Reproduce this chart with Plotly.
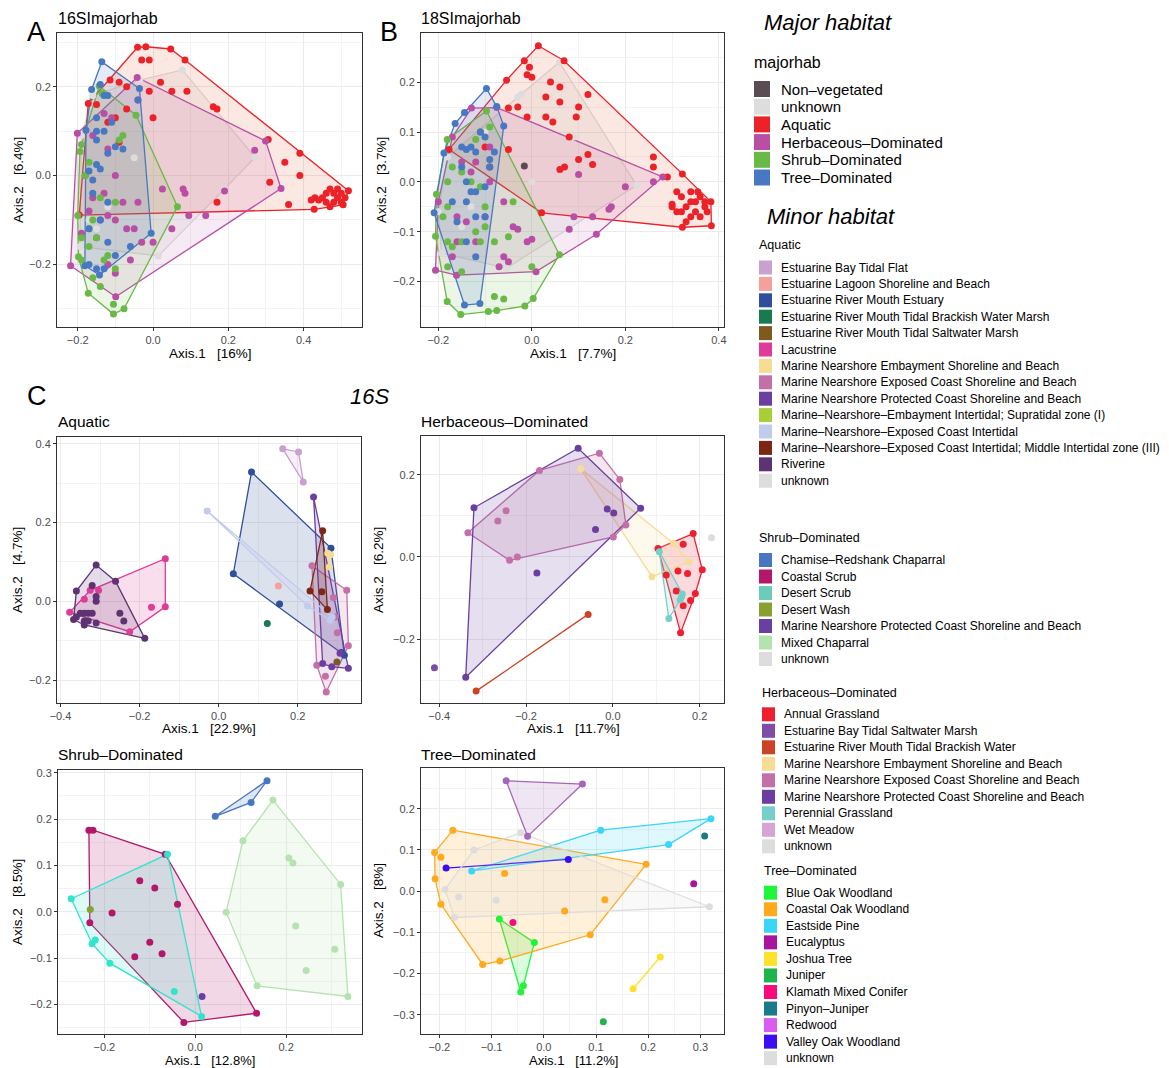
import plotly.graph_objects as go

W, H = 1169, 1068

# ---------------- DATA ----------------
major_labels = ["Non–vegetated", "unknown", "Aquatic", "Herbaceous–Dominated", "Shrub–Dominated", "Tree–Dominated"]
major_colors = ["#594D53", "#DDDDDD", "#EC2229", "#B94FA4", "#6AB946", "#4878C1"]
major_fills = ["rgba(89,77,83,0.15)", "rgba(200,200,200,0.18)", "rgba(236,90,55,0.14)",
               "rgba(185,79,164,0.12)", "rgba(106,185,70,0.13)", "rgba(72,120,193,0.15)"]

# Panel A (16S, major habitat)
A_groups = {
    "unknown": ([0.078, 0.271, 0.014, -0.194, -0.19, -0.160, -0.035, -0.05, -0.12, 0.19, -0.17, -0.15],
                [0.238, 0.041, -0.181, -0.160, 0.09, 0.18, 0.215, 0.04, -0.07, -0.03, -0.10, -0.12]),
    "Aquatic": ([-0.041, -0.019, 0.047, 0.085, 0.306, 0.519, 0.505, 0.428, -0.196, -0.172, -0.114,
                 0.45, 0.46, 0.47, 0.48, 0.49, 0.50, 0.48, 0.47, 0.50, 0.49, 0.44, 0.46, 0.51, 0.43, 0.42,
                 0.39, 0.39, 0.35, 0.31, 0.36, 0.17, 0.05, 0.09, -0.01, 0.0, 0.16, 0.17, -0.03, -0.01,
                 -0.09, -0.07, -0.12, -0.15, -0.10, -0.09, -0.07, 0.02],
                [0.289, 0.290, 0.285, 0.260, 0.081, -0.034, -0.066, -0.076, -0.089, 0.162, 0.215,
                 -0.05, -0.06, -0.03, -0.04, -0.05, -0.04, -0.06, -0.07, -0.06, -0.03, -0.055, -0.04, -0.05, -0.05, -0.055,
                 0.05, 0.0, 0.03, -0.015, -0.065, -0.06, 0.19, 0.19, 0.19, 0.13, 0.155, 0.15, 0.26, 0.26,
                 0.21, 0.15, 0.12, 0.16, 0.13, 0.075, 0.20, 0.21]),
    "Herbaceous–Dominated": ([-0.219, -0.201, -0.042, 0.299, 0.340, -0.099, 0.27, 0.19, 0.08, 0.085, 0.14, 0.095,
                              0.025, -0.04, -0.08, -0.10, -0.12, -0.14, -0.07, -0.03, 0.0, -0.06, -0.17, -0.13,
                              -0.16, -0.10, -0.12, -0.04, -0.13, -0.16, -0.18, -0.11, -0.05, -0.15, -0.19, -0.10,
                              -0.12, 0.05],
                             [-0.203, 0.095, 0.221, 0.078, -0.029, -0.273, 0.057, -0.035, -0.03, -0.04, -0.09, -0.09,
                              -0.03, -0.06, -0.06, -0.10, -0.09, -0.10, -0.12, -0.15, -0.15, -0.19, -0.08, -0.04,
                              -0.05, 0.0, 0.06, 0.17, 0.14, 0.09, 0.0, 0.13, -0.12, -0.14, -0.13, -0.22,
                              -0.20, -0.12]),
    "Shrub–Dominated": ([-0.143, -0.045, 0.065, -0.077, -0.105, -0.172, -0.198, -0.194, -0.135, -0.08, -0.17,
                         -0.19, -0.18, -0.14, -0.10, -0.16, -0.17, -0.15, -0.17, -0.12, -0.13, -0.10, -0.16,
                         -0.14, -0.105, -0.19, -0.09, -0.20, -0.19],
                        [0.2015, 0.136, -0.070, -0.300, -0.312, -0.265, -0.183, 0.054, 0.185, 0.09, 0.03,
                         0.07, 0.0, -0.05, -0.06, -0.10, -0.12, -0.14, -0.16, -0.18, -0.19, -0.21, -0.23,
                         -0.25, -0.29, -0.19, 0.08, -0.09, -0.14]),
    "Tree–Dominated": ([-0.136, -0.036, -0.005, -0.142, -0.181, -0.178, -0.163, -0.14, -0.13, -0.12, -0.15,
                        -0.11, -0.15, -0.13, -0.15, -0.08, -0.10, -0.12, -0.15, -0.14, -0.17, -0.16, -0.16,
                        -0.12, -0.14, -0.17, -0.12, -0.17, -0.15, -0.13, -0.06, -0.10, -0.04],
                       [0.256, 0.196, -0.130, -0.224, -0.203, 0.102, 0.194, 0.205, 0.18, 0.18, 0.13,
                        0.12, 0.10, 0.10, 0.08, 0.06, 0.065, 0.05, 0.025, 0.015, 0.01, -0.01, -0.04,
                        -0.06, -0.10, -0.12, -0.15, -0.20, -0.21, -0.21, -0.16, -0.18, 0.17]),
}

# Panel B (18S, major habitat)
B_groups = {
    "Non–vegetated": ([-0.016], [0.032]),
    "unknown": ([0.059, 0.224, -0.054, -0.193, -0.18, -0.022, -0.03, 0.09, -0.10, -0.13, -0.15, 0.0, -0.2],
                [0.240, -0.007, -0.173, -0.143, 0.05, 0.176, 0.17, 0.09, 0.10, -0.05, -0.09, 0.0, -0.06]),
    "Aquatic": ([0.014, 0.069, 0.322, 0.383, 0.384, 0.322, 0.021, -0.177, -0.054, -0.016,
                 0.30, 0.31, 0.32, 0.33, 0.34, 0.35, 0.36, 0.37, 0.36, 0.34, 0.33, 0.32, 0.35, 0.37, 0.355, 0.34,
                 0.30, 0.31, 0.375, 0.26, 0.26, 0.29, 0.12, 0.13, 0.10, 0.06, 0.08, 0.045, 0.095, 0.10, 0.03,
                 0.03, 0.06, 0.06, 0.04, -0.005, 0.0, -0.01, 0.12, -0.03, -0.05, -0.01, -0.05, -0.09, 0.07, -0.10],
                [0.273, 0.243, 0.016, -0.040, -0.088, -0.091, -0.062, 0.065, 0.204, 0.243,
                 -0.05, -0.02, -0.03, -0.05, -0.02, -0.04, -0.03, -0.05, -0.07, -0.07, -0.08, -0.06, -0.06, -0.04, -0.02, -0.04,
                 -0.045, -0.06, -0.06, 0.05, 0.03, 0.01, 0.055, 0.035, 0.045, 0.025, 0.09, 0.12, 0.13, 0.15, 0.13,
                 0.17, 0.16, 0.19, 0.20, 0.23, 0.21, 0.215, 0.175, 0.15, 0.148, 0.13, 0.065, 0.03, 0.03, 0.07]),
    "Herbaceous–Dominated": ([-0.129, -0.075, 0.280, 0.138, 0.009, -0.161, -0.206, -0.20, -0.17,
                              0.17, 0.165, 0.13, 0.08, 0.09, 0.10, 0.20, 0.26, -0.04, -0.03, -0.01, 0.0, -0.06,
                              -0.05, -0.07, -0.10, -0.12, -0.14, -0.16, -0.13, -0.15, -0.12, -0.09, -0.11, -0.06,
                              -0.16, -0.17, -0.09],
                             [0.148, 0.149, 0.010, -0.105, -0.180, -0.187, -0.177, -0.04, 0.09,
                              -0.05, -0.055, -0.07, -0.095, -0.07, 0.015, -0.01, 0.0, -0.09, -0.095, -0.12, -0.115, -0.15,
                              -0.16, -0.17, -0.07, -0.12, -0.08, -0.07, 0.02, 0.04, 0.04, 0.07, 0.10, -0.04,
                              -0.12, -0.15, 0.0]),
    "Shrub–Dominated": ([-0.097, 0.059, 0.003, -0.015, -0.075, -0.093, -0.152, -0.181, -0.206, -0.204, -0.181,
                         -0.11, -0.09, -0.12, -0.17, -0.15, -0.18, -0.13, -0.11, -0.10, -0.04, -0.19, -0.18, -0.17,
                         -0.15, -0.12, -0.10, -0.11, -0.08, -0.05, 0.0, -0.18, -0.15, -0.08, -0.06, -0.18],
                        [0.142, -0.146, -0.234, -0.249, -0.258, -0.260, -0.266, -0.240, -0.109, -0.025, 0.085,
                         0.10, 0.11, 0.085, 0.03, 0.02, 0.0, 0.0, -0.01, -0.05, -0.04, -0.07, -0.12, -0.13,
                         -0.12, -0.10, -0.09, -0.12, -0.12, -0.11, -0.17, -0.17, -0.18, -0.23, -0.235, -0.05]),
    "Tree–Dominated": ([-0.097, -0.075, -0.060, -0.111, -0.144, -0.209, -0.188, -0.164, -0.144,
                        -0.13, -0.15, -0.14, -0.12, -0.11, -0.08, -0.09, -0.09, -0.10, -0.15, -0.14, -0.13,
                        -0.12, -0.14, -0.10, -0.12, -0.16, -0.14, -0.12, -0.17, -0.10],
                       [0.187, 0.151, 0.112, -0.244, -0.247, -0.062, 0.058, 0.117, 0.139,
                        0.07, 0.07, 0.065, 0.06, 0.10, 0.06, 0.03, 0.045, 0.09, 0.03, 0.0, -0.02,
                        -0.02, -0.04, -0.07, -0.07, -0.08, -0.12, -0.15, -0.04, -0.01]),
}

# Minor habitat legend categories and colours
aquatic_labels = ["Estuarine Bay Tidal Flat", "Estuarine Lagoon Shoreline and Beach", "Estuarine River Mouth Estuary",
                  "Estuarine River Mouth Tidal Brackish Water Marsh", "Estuarine River Mouth Tidal Saltwater Marsh",
                  "Lacustrine", "Marine Nearshore Embayment Shoreline and Beach",
                  "Marine Nearshore Exposed Coast Shoreline and Beach", "Marine Nearshore Protected Coast Shoreline and Beach",
                  "Marine–Nearshore–Embayment Intertidal; Supratidal zone (I)", "Marine–Nearshore–Exposed Coast Intertidal",
                  "Marine–Nearshore–Exposed Coast Intertidal; Middle Intertidal zone (III)", "Riverine", "unknown"]
aquatic_colors = ["#C9A0CF", "#F4A09D", "#2F4E9B", "#187A4E", "#7E5A1F", "#DE3C96", "#F7DC96",
                  "#C470A8", "#6B3FA0", "#A9CF38", "#C0CCEB", "#7C2716", "#5D3373", "#DDDDDD"]

shrub_labels = ["Chamise–Redshank Chaparral", "Coastal Scrub", "Desert Scrub", "Desert Wash",
                "Marine Nearshore Protected Coast Shoreline and Beach", "Mixed Chaparral", "unknown"]
shrub_colors = ["#4877C1", "#B31769", "#6DCBBA", "#87A030", "#6B3FA0", "#B5E3AF", "#DDDDDD"]
shrub_plot_colors = ["#4877C1", "#B31769", "#33E3CB", "#87A030", "#6B3FA0", "#B5E3AF", "#DDDDDD"]

herb_labels = ["Annual Grassland", "Estuarine Bay Tidal Saltwater Marsh", "Estuarine River Mouth Tidal Brackish Water",
               "Marine Nearshore Embayment Shoreline and Beach", "Marine Nearshore Exposed Coast Shoreline and Beach",
               "Marine Nearshore Protected Coast Shoreline and Beach", "Perennial Grassland", "Wet Meadow", "unknown"]
herb_colors = ["#EE1F2F", "#7F4CA6", "#CB4324", "#F7DC96", "#C470A8", "#6B3FA0", "#76CFCB", "#D7A5D5", "#DDDDDD"]

tree_labels = ["Blue Oak Woodland", "Coastal Oak Woodland", "Eastside Pine", "Eucalyptus", "Joshua Tree", "Juniper",
               "Klamath Mixed Conifer", "Pinyon–Juniper", "Redwood", "Valley Oak Woodland", "unknown"]
tree_colors = ["#1EF53B", "#FFA91D", "#3AD5F7", "#A8149D", "#FDE12A", "#1DB34D", "#FB0A7E", "#1A7A8A",
               "#D85DF0", "#3C0DF2", "#DDDDDD"]
tree_plot_colors = ["#1EF53B", "#FFA91D", "#3AD5F7", "#A8149D", "#FDE12A", "#1DB34D", "#FB0A7E", "#1A7A8A",
                    "#A466BA", "#3C0DF2", "#DDDDDD"]

# Panel C – Aquatic (16S)
CA_groups = {
    "Estuarine Bay Tidal Flat": ([0.162, 0.202, 0.214], [0.387, 0.379, 0.303]),
    "Estuarine Lagoon Shoreline and Beach": ([0.151], [0.039]),
    "Estuarine River Mouth Estuary": ([0.083, 0.284, 0.318, 0.037, 0.154, 0.31], [0.328, 0.135, -0.137, 0.070, -0.007, -0.13]),
    "Estuarine River Mouth Tidal Brackish Water Marsh": ([0.123], [-0.056]),
    "Estuarine River Mouth Tidal Saltwater Marsh": ([0.299], [-0.154]),
    "Lacustrine": ([-0.135, -0.135, -0.225, -0.377, -0.325, -0.304, -0.17, -0.34],
                   [0.108, -0.014, -0.077, -0.028, 0.028, 0.028, -0.015, 0.005]),
    "Marine Nearshore Embayment Shoreline and Beach": ([0.276, 0.283, 0.280], [0.122, 0.118, 0.087]),
    "Marine Nearshore Exposed Coast Shoreline and Beach": ([0.236, 0.324, 0.328, 0.272, 0.248, 0.27, 0.29, 0.30, 0.295],
                                                           [0.090, 0.028, -0.113, -0.230, -0.162, -0.19, 0.01, -0.08, -0.04]),
    "Marine Nearshore Protected Coast Shoreline and Beach": ([0.240, 0.328, 0.286, 0.263, 0.307],
                                                             [0.265, -0.170, -0.166, -0.158, -0.132]),
    "Marine–Nearshore–Exposed Coast Intertidal": ([-0.029, 0.225, 0.282, 0.287], [0.229, -0.012, -0.048, -0.040]),
    "Marine–Nearshore–Exposed Coast Intertidal; Middle Intertidal zone (III)": ([0.263, 0.231, 0.275, 0.261],
                                                                                [0.179, 0.026, -0.021, 0.024]),
    "Riverine": ([-0.310, -0.261, -0.187, -0.367, -0.360, -0.32, -0.31, -0.31, -0.34, -0.33, -0.32, -0.35, -0.34,
                  -0.33, -0.36, -0.31, -0.34, -0.25, -0.24],
                 [0.092, 0.051, -0.094, -0.046, 0.026, 0.04, 0.012, 0.0, -0.03, -0.03, -0.03, -0.03, -0.05,
                  -0.05, -0.04, -0.055, -0.06, -0.03, -0.05]),
}

# Panel C – Herbaceous-Dominated
CH_groups = {
    "Annual Grassland": ([0.104, 0.185, 0.206, 0.156, 0.162, 0.150, 0.172, 0.190, 0.179, 0.162, 0.146, 0.123],
                         [0.021, 0.057, -0.031, -0.185, 0.031, -0.034, -0.040, -0.089, -0.106, -0.119, -0.083, -0.044]),
    "Estuarine Bay Tidal Saltwater Marsh": ([-0.411], [-0.270]),
    "Estuarine River Mouth Tidal Brackish Water": ([-0.315, -0.057], [-0.327, -0.140]),
    "Marine Nearshore Embayment Shoreline and Beach": ([-0.074, 0.176, 0.090, 0.140], [0.215, -0.012, -0.048, 0.033]),
    "Marine Nearshore Exposed Coast Shoreline and Beach": ([-0.031, 0.016, 0.030, 0.001, -0.220, -0.238, -0.334, -0.169, -0.246, -0.265],
                                                           [0.253, 0.189, 0.078, 0.049, 0.0, -0.008, 0.059, 0.211, 0.113, 0.088]),
    "Marine Nearshore Protected Coast Shoreline and Beach": ([-0.080, 0.064, -0.339, -0.320, -0.040, -0.013, -0.175, 0.002],
                                                             [0.265, 0.119, -0.293, 0.120, 0.067, 0.117, -0.039, 0.107]),
    "Perennial Grassland": ([0.107, 0.158, 0.129, 0.155, 0.16], [0.013, -0.097, -0.150, -0.105, -0.09]),
    "unknown": ([0.227], [0.047]),
}

# Panel C – Shrub-Dominated
CS_groups = {
    "Chamise–Redshank Chaparral": ([0.044, 0.158, 0.123], [0.206, 0.283, 0.236]),
    "Coastal Scrub": ([-0.234, -0.225, -0.066, 0.135, -0.025, -0.232, -0.122, -0.089, -0.039, -0.183, -0.100, -0.073, -0.133],
                      [0.176, 0.176, 0.124, -0.219, -0.239, -0.024, 0.067, 0.051, 0.016, -0.003, -0.066, -0.091, -0.097]),
    "Desert Scrub": ([-0.273, -0.061, 0.014, -0.188, -0.227, -0.220, -0.046],
                     [0.028, 0.124, -0.226, -0.111, -0.069, -0.061, -0.172]),
    "Desert Wash": ([-0.231], [0.005]),
    "Marine Nearshore Protected Coast Shoreline and Beach": ([0.015], [-0.183]),
    "Mixed Chaparral": ([0.171, 0.320, 0.336, 0.136, 0.068, 0.105, 0.206, 0.215, 0.221, 0.307, 0.244],
                        [0.241, 0.059, -0.183, -0.160, -0.001, 0.153, 0.116, 0.105, -0.031, -0.081, -0.127]),
}

# Panel C – Tree-Dominated
CT_groups = {
    "Blue Oak Woodland": ([-0.085, -0.018, -0.039, -0.044], [-0.068, -0.125, -0.230, -0.245]),
    "Coastal Oak Woodland": ([-0.174, 0.196, 0.089, -0.084, -0.117, -0.197, -0.208, -0.209, -0.197, -0.075, 0.040, 0.117],
                             [0.148, 0.065, -0.106, -0.170, -0.178, -0.032, 0.030, 0.094, 0.082, 0.043, -0.048, -0.021]),
    "Eastside Pine": ([-0.138, 0.109, 0.239, 0.320], [0.049, 0.148, 0.113, 0.176]),
    "Eucalyptus": ([0.287], [0.018]),
    "Joshua Tree": ([0.171, 0.223], [-0.237, -0.160]),
    "Juniper": ([0.114], [-0.317]),
    "Klamath Mixed Conifer": ([-0.059], [-0.076]),
    "Pinyon–Juniper": ([0.308], [0.134]),
    "Redwood": ([-0.072, 0.074, -0.031], [0.268, 0.260, 0.133]),
    "Valley Oak Woodland": ([-0.187, 0.047], [0.056, 0.077]),
    "unknown": ([-0.044, -0.134, -0.189, -0.171, 0.317, -0.163, -0.091], [0.142, 0.100, 0.004, -0.064, -0.038, -0.014, -0.022]),
}

# ---------------- HELPERS ----------------
def fx(p):
    return p / W


def fy(p):
    return 1 - p / H


def convex_hull(xs, ys):
    pts = sorted(set(zip(xs, ys)))
    if len(pts) <= 2:
        return pts

    def cross(o, a, b):
        return (a[0] - o[0]) * (b[1] - o[1]) - (a[1] - o[1]) * (b[0] - o[0])

    lower, upper = [], []
    for p in pts:
        while len(lower) >= 2 and cross(lower[-2], lower[-1], p) <= 0:
            lower.pop()
        lower.append(p)
    for p in reversed(pts):
        while len(upper) >= 2 and cross(upper[-2], upper[-1], p) <= 0:
            upper.pop()
        upper.append(p)
    return lower[:-1] + upper[:-1]


def hex_rgba(h, a):
    h = h.lstrip("#")
    r, g, b = int(h[0:2], 16), int(h[2:4], 16), int(h[4:6], 16)
    return f"rgba({r},{g},{b},{a})"


fig = go.Figure()

FONT = "Liberation Sans, Arial, sans-serif"


def add_panel(groups, order, colors, fills, xa, ya):
    # hulls first
    for name in order:
        if name not in groups:
            continue
        xs, ys = groups[name]
        col = colors[name]
        h = convex_hull(xs, ys)
        if len(h) >= 3:
            fig.add_trace(go.Scatter(x=[p[0] for p in h] + [h[0][0]], y=[p[1] for p in h] + [h[0][1]],
                                     mode="lines", fill="toself", fillcolor=fills[name],
                                     line=dict(color=col, width=1.3), xaxis=xa, yaxis=ya,
                                     showlegend=False, hoverinfo="skip"))
        elif len(h) == 2:
            fig.add_trace(go.Scatter(x=[p[0] for p in h], y=[p[1] for p in h], mode="lines",
                                     line=dict(color=col, width=1.3), xaxis=xa, yaxis=ya,
                                     showlegend=False, hoverinfo="skip"))
    for name in order:
        if name not in groups:
            continue
        xs, ys = groups[name]
        fig.add_trace(go.Scatter(x=xs, y=ys, mode="markers",
                                 marker=dict(color=colors[name], size=7, line=dict(width=0)),
                                 xaxis=xa, yaxis=ya, showlegend=False, name=name))


maj_col = dict(zip(major_labels, major_colors))
maj_fill = dict(zip(major_labels, major_fills))
add_panel(A_groups, major_labels, maj_col, maj_fill, "x", "y")
add_panel(B_groups, major_labels, maj_col, maj_fill, "x2", "y2")

aq_col = dict(zip(aquatic_labels, aquatic_colors))
add_panel(CA_groups, aquatic_labels, aq_col, {k: hex_rgba(v, 0.17) for k, v in aq_col.items()}, "x3", "y3")
hb_col = dict(zip(herb_labels, herb_colors))
add_panel(CH_groups, herb_labels, hb_col, {k: hex_rgba(v, 0.17) for k, v in hb_col.items()}, "x4", "y4")
sh_col = dict(zip(shrub_labels, shrub_plot_colors))
add_panel(CS_groups, shrub_labels, sh_col, {k: hex_rgba(v, 0.17) for k, v in sh_col.items()}, "x5", "y5")
tr_col = dict(zip(tree_labels, tree_plot_colors))
add_panel(CT_groups, tree_labels, tr_col, {k: hex_rgba(v, 0.17) for k, v in tr_col.items()}, "x6", "y6")

# ---------------- AXES ----------------
panels = [
    # (left, right, top, bottom px), xrange, yrange, xdtick, ydtick
    ((57, 362, 33, 327), [-0.255, 0.555], [-0.341, 0.321], 0.2, 0.2),
    ((421, 724, 33, 327), [-0.237, 0.411], [-0.291, 0.2985], 0.2, 0.1),
    ((57, 361, 437, 703), [-0.409, 0.360], [-0.258, 0.417], 0.2, 0.2),
    ((421, 724, 436, 703), [-0.442, 0.256], [-0.356, 0.295], 0.2, 0.2),
    ((58, 362, 770, 1034), [-0.302, 0.367], [-0.264, 0.306], 0.2, 0.1),
    ((421, 724, 768, 1034), [-0.235, 0.345], [-0.347, 0.299], 0.1, 0.1),
]

layout = dict(width=W, height=H, margin=dict(l=0, r=0, t=0, b=0, autoexpand=False), autosize=False,
              paper_bgcolor="white", plot_bgcolor="white", font=dict(family=FONT, color="black"))

for i, ((l, r, t, b), xr, yr, dx, dy) in enumerate(panels):
    sfx = "" if i == 0 else str(i + 1)
    common = dict(showline=True, mirror=True, linecolor="#333333", linewidth=1.1,
                  showgrid=True, gridcolor="#EBEBEB", gridwidth=1.2, zeroline=False,
                  ticks="outside", ticklen=3, tickcolor="#333333", tickwidth=1,
                  tickfont=dict(size=11, color="#4D4D4D", family=FONT), tickformat=".1f",
                  fixedrange=True, automargin=False)
    layout["xaxis" + sfx] = dict(common, domain=[fx(l), fx(r)], range=xr, tick0=0, dtick=dx,
                                 anchor="y" + sfx,
                                 minor=dict(dtick=dx / 2, tick0=0, showgrid=True, gridcolor="#F3F3F3",
                                            gridwidth=0.8, ticks=""))
    layout["yaxis" + sfx] = dict(common, domain=[fy(b), fy(t)], range=yr, tick0=0, dtick=dy,
                                 anchor="x" + sfx,
                                 minor=dict(dtick=dy / 2, tick0=0, showgrid=True, gridcolor="#F3F3F3",
                                            gridwidth=0.8, ticks=""))

annotations = []
shapes = []


def text(x, y, s, size, xanchor="left", italic=False, angle=0, color="black"):
    if italic:
        s = "<i>" + s + "</i>"
    annotations.append(dict(x=fx(x), y=fy(y), xref="paper", yref="paper", text=s, showarrow=False,
                            xanchor=xanchor, yanchor="middle", textangle=angle, borderpad=0,
                            font=dict(size=size, color=color, family=FONT)))


# panel titles / letters
text(57, 18, "16SImajorhab", 16)
text(420, 18, "18SImajorhab", 16)
text(36, 32, "A", 27, xanchor="center")
text(389, 32, "B", 27, xanchor="center")
text(37, 396, "C", 27, xanchor="center")
text(370, 396, "16S", 22, xanchor="center", italic=True)
text(57, 421, "Aquatic", 15.5)
text(420, 421, "Herbaceous–Dominated", 15.5)
text(57, 754, "Shrub–Dominated", 15.5)
text(420, 754, "Tree–Dominated", 15.5)

# axis titles
ax_titles = [
    ("Axis.1   [16%]", "Axis.2   [6.4%]", 210, 353, 19, 180, 13.5),
    ("Axis.1   [7.7%]", "Axis.2   [3.7%]", 573, 353, 382, 180, 13.5),
    ("Axis.1   [22.9%]", "Axis.2   [4.7%]", 209, 728.5, 17, 570, 13.5),
    ("Axis.1   [11.7%]", "Axis.2   [6.2%]", 573, 728.5, 378, 570, 13.5),
    ("Axis.1   [12.8%]", "Axis.2   [8.5%]", 210, 1060, 17, 902, 13),
    ("Axis.1   [11.2%]", "Axis.2   [8%]", 573, 1060, 378, 901, 13),
]
for t1, t2, x1, y1, x2, y2, fs in ax_titles:
    text(x1, y1, t1.replace(" ", "&nbsp;"), fs, xanchor="center")
    text(x2, y2, t2.replace(" ", "&nbsp;"), 13.5, xanchor="center", angle=-90)

# ---------------- LEGEND (drawn) ----------------
text(763, 22, "Major habitat", 22, italic=True)
text(753, 63, "majorhab", 16)
for k, (lab, col) in enumerate(zip(major_labels, major_colors)):
    yc = 89 + k * 17.7
    shapes.append(dict(type="rect", xref="paper", yref="paper", x0=fx(754), x1=fx(770),
                       y0=fy(yc + 8), y1=fy(yc - 8), fillcolor=col, line=dict(width=0)))
    text(780, yc, lab, 15)

text(766, 216, "Minor habitat", 22, italic=True)


def legend_block(title, tx, ty, labels, colors, sq_x, y0, step, txt_x):
    text(tx, ty, title, 12.5)
    for k, (lab, col) in enumerate(zip(labels, colors)):
        yc = y0 + k * step
        shapes.append(dict(type="rect", xref="paper", yref="paper", x0=fx(sq_x), x1=fx(sq_x + 13),
                           y0=fy(yc + 7), y1=fy(yc - 7), fillcolor=col, line=dict(width=0)))
        text(txt_x, yc, lab, 12)


legend_block("Aquatic", 758, 245, aquatic_labels, aquatic_colors, 759, 267.5, 16.4, 780)
legend_block("Shrub–Dominated", 758, 538, shrub_labels, shrub_colors, 759, 560, 16.5, 780)
legend_block("Herbaceous–Dominated", 761, 692.5, herb_labels, herb_colors, 762, 714.3, 16.5, 783)
legend_block("Tree–Dominated", 763, 870.5, tree_labels, tree_colors, 764, 892.7, 16.55, 785)

layout["annotations"] = annotations
layout["shapes"] = shapes
fig.update_layout(**layout)

fig.write_html("out.html", config={"displayModeBar": False},
               post_script="document.body.style.margin='0';document.body.style.overflow='hidden';")
